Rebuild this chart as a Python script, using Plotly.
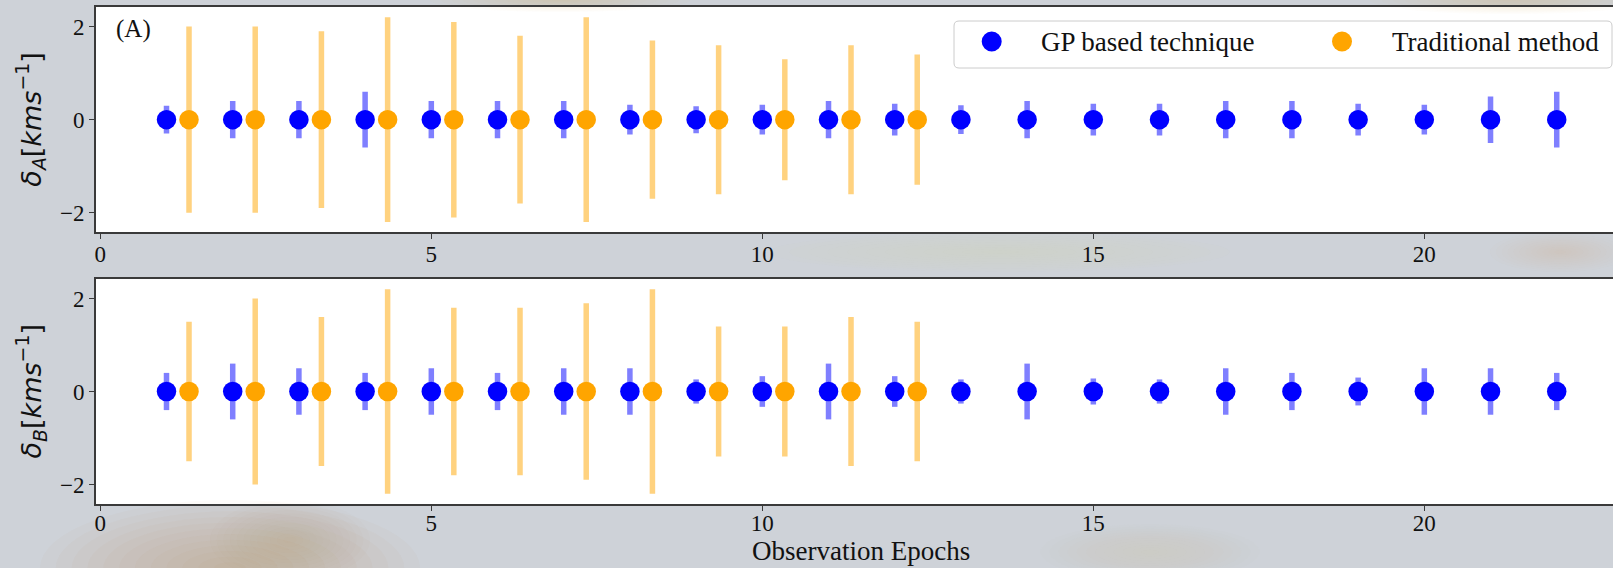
import plotly.graph_objects as go

# Observation epochs and the dodge used for the traditional-method points
epochs = list(range(1, 23))
trad_epochs = list(range(1, 13))
trad_dodge = 0.34
trad_x = [e + trad_dodge for e in trad_epochs]

# Star A: velocity residuals and their uncertainties
gp_a = [0.0] * 22
gp_a_err = [0.30, 0.40, 0.40, 0.60, 0.40, 0.40, 0.40, 0.32, 0.29, 0.32, 0.40, 0.34,
            0.31, 0.40, 0.34, 0.34, 0.40, 0.40, 0.34, 0.32, 0.50, 0.60]
trad_a = [0.0] * 12
trad_a_err = [2.0, 2.0, 1.9, 2.2, 2.1, 1.8, 2.2, 1.7, 1.6, 1.3, 1.6, 1.4]

# Star B: velocity residuals and their uncertainties
gp_b = [0.0] * 22
gp_b_err = [0.40, 0.60, 0.50, 0.40, 0.50, 0.40, 0.50, 0.50, 0.26, 0.33, 0.60, 0.33,
            0.26, 0.60, 0.28, 0.26, 0.50, 0.40, 0.30, 0.50, 0.50, 0.40]
trad_b = [0.0] * 12
trad_b_err = [1.5, 2.0, 1.6, 2.2, 1.8, 1.8, 1.9, 2.2, 1.4, 1.4, 1.6, 1.5]

x_ticks = [0, 5, 10, 15, 20]
y_ticks = [-2, 0, 2]

GP_NAME = "GP based technique"
TRAD_NAME = "Traditional method"

BLUE = "#0000ff"
ORANGE = "#ffa500"
SERIF = "Liberation Serif, Times New Roman, serif"
INK = "#111111"

fig = go.Figure()


def add_panel(xa, ya, gp_y, gp_err, tr_y, tr_err):
    fig.add_trace(go.Scatter(
        x=epochs, y=gp_y, mode="markers", name=GP_NAME,
        xaxis=xa, yaxis=ya,
        marker=dict(color=BLUE, size=19.5, line=dict(width=0)),
        error_y=dict(type="data", array=gp_err, symmetric=True, width=0,
                     thickness=5.5, color="rgba(0,0,255,0.5)"),
    ))
    fig.add_trace(go.Scatter(
        x=trad_x, y=tr_y, mode="markers", name=TRAD_NAME,
        xaxis=xa, yaxis=ya,
        marker=dict(color=ORANGE, size=19.5, line=dict(width=0)),
        error_y=dict(type="data", array=tr_err, symmetric=True, width=0,
                     thickness=5.5, color="rgba(255,165,0,0.5)"),
    ))


add_panel("x", "y", gp_a, gp_a_err, trad_a, trad_a_err)
add_panel("x2", "y2", gp_b, gp_b_err, trad_b, trad_b_err)

W, H = 1613, 568
ML, MR, MT, MB = 96, 0, 7, 64
PW, PH = W - ML - MR, H - MT - MB


def px_x(px):
    return (px - ML) / PW


def px_y(py):
    return (H - MB - py) / PH


top_dom = [px_y(232.3), 1.0]
bot_dom = [0.0, px_y(279)]

axis_line = dict(showline=True, linecolor="#3a3a3a", linewidth=1.6,
                 ticks="outside", ticklen=5, tickwidth=1.2, tickcolor="#3a3a3a",
                 showgrid=False, zeroline=False,
                 tickfont=dict(family=SERIF, size=23, color=INK))

xrange_ = [-0.065, 22.85]
yrange_ = [-2.42, 2.42]

fig.update_layout(
    width=W, height=H,
    margin=dict(l=ML, r=MR, t=MT, b=MB, pad=0),
    paper_bgcolor="#ced2d8",
    plot_bgcolor="#ffffff",
    showlegend=False,
    xaxis=dict(domain=[0, 1], anchor="y", range=xrange_, tickvals=x_ticks,
               mirror=True, ticklabelstandoff=-5, **axis_line),
    yaxis=dict(domain=top_dom, anchor="x", range=yrange_, tickvals=y_ticks,
               mirror=False, **axis_line),
    xaxis2=dict(domain=[0, 1], anchor="y2", range=xrange_, tickvals=x_ticks,
                mirror=True, ticklabelstandoff=-7, **axis_line),
    yaxis2=dict(domain=bot_dom, anchor="x2", range=yrange_, tickvals=y_ticks,
                mirror=False, **axis_line),
)

shapes = []

# Soft colour patches in the page background
blobs = [
    # (cx, cy, rx, ry, rgb, peak opacity)
    (230, 568, 190, 68, (180, 120, 70), 0.40),
    (290, 540, 80, 40, (190, 100, 60), 0.20),
    (560, 0, 130, 12, (205, 175, 120), 0.35),
    (1510, 0, 140, 14, (210, 180, 120), 0.40),
    (1000, 252, 230, 20, (215, 198, 155), 0.30),
    (1560, 252, 70, 20, (215, 190, 140), 0.35),
    (1150, 552, 110, 28, (212, 196, 150), 0.25),
]
steps = 12
for cx, cy, rx, ry, (r, g, b), peak in blobs:
    for k in range(steps):
        f = 1.0 - k / steps
        shapes.append(dict(
            type="circle", xref="paper", yref="paper", layer="below",
            x0=px_x(cx - rx * f), x1=px_x(cx + rx * f),
            y0=px_y(cy + ry * f), y1=px_y(cy - ry * f),
            line=dict(width=0), fillcolor=f"rgba({r},{g},{b},{peak / steps:.3f})",
        ))

# Legend frame with rounded corners
lx0, lx1, ly0, ly1, rad = 954, 1612, 21, 68, 5
frame = (
    f"M {px_x(lx0 + rad)} {px_y(ly0)} L {px_x(lx1 - rad)} {px_y(ly0)} "
    f"Q {px_x(lx1)} {px_y(ly0)} {px_x(lx1)} {px_y(ly0 + rad)} "
    f"L {px_x(lx1)} {px_y(ly1 - rad)} "
    f"Q {px_x(lx1)} {px_y(ly1)} {px_x(lx1 - rad)} {px_y(ly1)} "
    f"L {px_x(lx0 + rad)} {px_y(ly1)} "
    f"Q {px_x(lx0)} {px_y(ly1)} {px_x(lx0)} {px_y(ly1 - rad)} "
    f"L {px_x(lx0)} {px_y(ly0 + rad)} "
    f"Q {px_x(lx0)} {px_y(ly0)} {px_x(lx0 + rad)} {px_y(ly0)} Z"
)
shapes.append(dict(type="path", xref="paper", yref="paper", layer="above",
                   path=frame, fillcolor="rgba(255,255,255,0.85)",
                   line=dict(color="#cccccc", width=1)))

# Legend keys
legend_items = [(991.7, 1039.3, BLUE, GP_NAME), (1342.0, 1390.0, ORANGE, TRAD_NAME)]
key_y = 41.5
for mx, tx, col, label in legend_items:
    shapes.append(dict(type="circle", xref="paper", yref="paper", layer="above",
                       xsizemode="pixel", ysizemode="pixel",
                       xanchor=px_x(mx), yanchor=px_y(key_y),
                       x0=-10, x1=10, y0=-10, y1=10,
                       fillcolor=col, line=dict(width=0)))
    fig.add_annotation(text=label, xref="paper", yref="paper",
                       x=px_x(tx), y=px_y(key_y + 1), xanchor="left", yanchor="middle",
                       showarrow=False, font=dict(family=SERIF, size=27, color=INK))

fig.update_layout(shapes=shapes)

ytitle_font = dict(family="DejaVu Sans", size=27, color=INK)
fig.add_annotation(
    text="<i>δ</i><sub><i>A</i></sub>[<i>kms</i><sup>−1</sup>]",
    xref="paper", yref="paper", x=0, y=(top_dom[0] + top_dom[1]) / 2,
    xanchor="center", yanchor="middle", xshift=31 - ML, textangle=-90,
    showarrow=False, font=ytitle_font,
)
fig.add_annotation(
    text="<i>δ</i><sub><i>B</i></sub>[<i>kms</i><sup>−1</sup>]",
    xref="paper", yref="paper", x=0, y=(bot_dom[0] + bot_dom[1]) / 2,
    xanchor="center", yanchor="middle", xshift=31 - ML, textangle=-90,
    showarrow=False, font=ytitle_font,
)
fig.add_annotation(
    text="(A)", xref="paper", yref="paper", x=0, y=1,
    xanchor="left", yanchor="middle", xshift=114 - ML, yshift=-(29 - MT),
    showarrow=False, font=dict(family=SERIF, size=25, color=INK),
)
fig.add_annotation(
    text="Observation Epochs", xref="paper", yref="paper",
    x=px_x(861), y=0, xanchor="center", yanchor="bottom", yshift=-MB + 1,
    borderpad=0, showarrow=False, font=dict(family=SERIF, size=27, color=INK),
)

fig.write_html("out.html")
